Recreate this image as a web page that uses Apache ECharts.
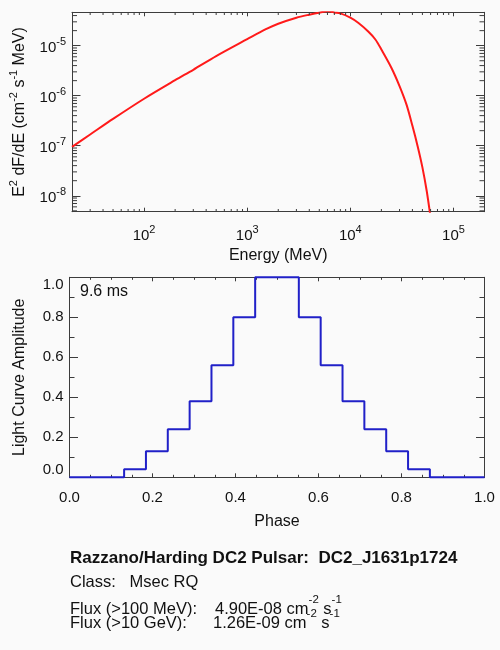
<!DOCTYPE html>
<html>
<head>
<meta charset="utf-8">
<title>DC2_J1631p1724</title>
<script src="https://cdn.jsdelivr.net/npm/echarts@6/dist/echarts.min.js"></script>
<style>
  html, body { margin: 0; padding: 0; background: #fafafa; }
  #main { width: 500px; height: 650px; }
</style>
</head>
<body>
<div id="main"></div>
<script>
// spectrum (top panel): energy in MeV, E^2 dF/dE in cm^-2 s^-1 MeV
const energy = [20, 30, 50, 100, 200, 300, 500, 1000, 1500, 2000, 3000, 4000, 5000, 5500, 6000,
  6500, 7000, 8000, 10000, 12000, 15000, 17500, 20000, 25000, 30000, 35000, 40000, 45000, 50000,
  55000, 60000];
const e2dnde = [9.5e-8, 1.68e-7, 3.44e-7, 8.7e-7, 2.04e-6, 3.3e-6, 6.2e-6, 1.35e-5, 2.11e-5, 2.75e-5,
  3.63e-5, 4.17e-5, 4.57e-5, 4.79e-5, 4.9e-5, 4.79e-5, 4.62e-5, 4.42e-5, 3.63e-5, 2.84e-5, 1.9e-5,
  1.33e-5, 8.4e-6, 3.63e-6, 1.56e-6, 6.7e-7, 2.5e-7, 9.7e-8, 3.7e-8, 1.26e-8, 3.7e-9];

// light curve (bottom panel)
const phase = [0.0000, 0.0526, 0.1053, 0.1579, 0.2105, 0.2632, 0.3158, 0.3684, 0.4211, 0.4737,
  0.5263, 0.5789, 0.6316, 0.6842, 0.7368, 0.7895, 0.8421, 0.8947, 0.9474, 1.0000];
const amplitude = [0, 0, 0, 0.04, 0.13, 0.24, 0.38, 0.56, 0.80, 1.0,
  1.0, 0.80, 0.56, 0.38, 0.24, 0.13, 0.04, 0, 0, 0];

// axis ranges and tick labels
const energyRange = [20, 2e5];
const fluxRange = [4.8e-9, 4.65e-5];
const phaseTicks = [0, 0.2, 0.4, 0.6, 0.8, 1.0];
const ampTicks = [0, 0.2, 0.4, 0.6, 0.8, 1.0];
const minorMantissa = [2, 3, 4, 5, 6, 7, 8, 9];

const FONT = "'Liberation Sans', Arial, Helvetica, sans-serif";
const axisColor = '#3c3c3c';
const textColor = '#111';

// minor ticks of the log axes: 2..9 x 10^n inside the range
function logMinor(range, d0, d1) {
  const out = [];
  for (let d = d0; d <= d1; d++) {
    minorMantissa.forEach(m => {
      const v = m * Math.pow(10, d);
      if (v > range[0] * 1.001 && v < range[1] * 0.999) out.push(v);
    });
  }
  return out;
}
const energyMinor = logMinor(energyRange, 1, 5);
const fluxMinor = logMinor(fluxRange, -9, -5);

const tickRich = {
  b: { fontFamily: FONT, fontSize: 15, color: textColor, lineHeight: 19, verticalAlign: 'bottom' },
  s: { fontFamily: FONT, fontSize: 11, color: textColor, lineHeight: 10, verticalAlign: 'top' }
};
const nameRich = {
  b: { fontFamily: FONT, fontSize: 16, color: textColor, lineHeight: 20, verticalAlign: 'bottom' },
  s: { fontFamily: FONT, fontSize: 11, color: textColor, lineHeight: 10, verticalAlign: 'top' }
};
function blockRich(labelWidth) {
  return {
    l: { fontFamily: FONT, fontSize: 16.5, fill: textColor, lineHeight: 24, verticalAlign: 'bottom',
      width: labelWidth },
    n: { fontFamily: FONT, fontSize: 16.5, fill: textColor, lineHeight: 24, verticalAlign: 'bottom' },
    s: { fontFamily: FONT, fontSize: 11.5, fill: textColor, lineHeight: 8, verticalAlign: 'top' }
  };
}

function powLabel(v) {
  const l = Math.log10(v);
  const e = Math.round(l);
  if (Math.abs(l - e) > 1e-6) return '';
  return '{b|10}{s|' + e + '}';
}

const chart = echarts.init(document.getElementById('main'));

const xTick = { show: true, inside: true, length: 4, lineStyle: { color: axisColor, width: 1 } };
const yTick = { show: true, inside: true, length: 8.5, lineStyle: { color: axisColor, width: 1 } };
const lineBox = { show: true, onZero: false, lineStyle: { color: axisColor, width: 1 } };
const noLabel = { show: false };
const xMinor = (n) => ({ show: true, splitNumber: n, length: 2.5, lineStyle: { color: axisColor } });
const yMinor = (n) => ({ show: true, splitNumber: n, length: 5, lineStyle: { color: axisColor } });

function minorTickSeries(horizontal) {
  return {
    type: 'custom',
    xAxisIndex: 0,
    yAxisIndex: 0,
    silent: true,
    clip: false,
    z: 5,
    data: horizontal ? energyMinor.map(v => [v, fluxRange[0]]) : fluxMinor.map(v => [energyRange[0], v]),
    renderItem(params, api) {
      const st = { stroke: axisColor, lineWidth: 1 };
      if (horizontal) {
        const b = api.coord([api.value(0), fluxRange[0]]);
        const t = api.coord([api.value(0), fluxRange[1]]);
        return { type: 'group', children: [
          { type: 'line', shape: { x1: b[0], y1: b[1], x2: b[0], y2: b[1] - 2.7 }, style: st },
          { type: 'line', shape: { x1: t[0], y1: t[1], x2: t[0], y2: t[1] + 2.7 }, style: st }
        ] };
      }
      const l = api.coord([energyRange[0], api.value(1)]);
      const r = api.coord([energyRange[1], api.value(1)]);
      return { type: 'group', children: [
        { type: 'line', shape: { x1: l[0], y1: l[1], x2: l[0] + 5, y2: l[1] }, style: st },
        { type: 'line', shape: { x1: r[0], y1: r[1], x2: r[0] - 5, y2: r[1] }, style: st }
      ] };
    }
  };
}

function plainText(x, y, text, font) {
  return { type: 'text', x: x, y: y,
    style: { text: text, font: font + ' ' + FONT, fill: textColor, verticalAlign: 'middle' } };
}
function fluxLine(y, label, labelWidth, value) {
  return { type: 'text', x: 70, y: y,
    style: { text: '{l|' + label + '}{n|' + value + ' cm}{s|-2}{n| s}{s|-1}', verticalAlign: 'middle',
      rich: blockRich(labelWidth) } };
}

const option = {
  backgroundColor: '#fafafa',
  animation: false,
  textStyle: { fontFamily: FONT },
  grid: [
    { left: 69.5, top: 12.3, width: 415, height: 199.4 },
    { left: 69.5, top: 277.3, width: 415, height: 200 }
  ],
  xAxis: [
    {
      type: 'log', gridIndex: 0, position: 'bottom',
      min: energyRange[0], max: energyRange[1],
      axisLine: lineBox, axisTick: xTick, splitLine: { show: false },
      axisLabel: { margin: 13, formatter: powLabel, rich: tickRich },
      name: 'Energy (MeV)', nameLocation: 'middle', nameGap: 36,
      nameTextStyle: { fontFamily: FONT, fontSize: 16, color: textColor }
    },
    {
      type: 'log', gridIndex: 0, position: 'top',
      min: energyRange[0], max: energyRange[1],
      axisLine: lineBox, axisTick: xTick, splitLine: { show: false }, axisLabel: noLabel
    },
    {
      type: 'value', gridIndex: 1, position: 'bottom',
      min: phaseTicks[0], max: phaseTicks[phaseTicks.length - 1], interval: 0.2,
      axisLine: lineBox, axisTick: xTick, splitLine: { show: false }, minorTick: xMinor(4),
      axisLabel: { margin: 13, fontSize: 15, color: textColor, fontFamily: FONT,
        formatter: v => v.toFixed(1) },
      name: 'Phase', nameLocation: 'middle', nameGap: 36,
      nameTextStyle: { fontFamily: FONT, fontSize: 16, color: textColor }
    },
    {
      type: 'value', gridIndex: 1, position: 'top',
      min: 0, max: 1, interval: 0.2,
      axisLine: lineBox, axisTick: xTick, splitLine: { show: false }, minorTick: xMinor(4),
      axisLabel: noLabel
    }
  ],
  yAxis: [
    {
      type: 'log', gridIndex: 0, position: 'left',
      min: fluxRange[0], max: fluxRange[1],
      axisLine: lineBox, axisTick: yTick, splitLine: { show: false },
      axisLabel: { margin: 6, formatter: powLabel, rich: tickRich },
      name: '{b|E}{s|2}{b| dF/dE (cm}{s|-2}{b| s}{s|-1}{b| MeV)}',
      nameLocation: 'middle', nameGap: 44, nameRotate: 90,
      nameTextStyle: { rich: nameRich }
    },
    {
      type: 'log', gridIndex: 0, position: 'right',
      min: fluxRange[0], max: fluxRange[1],
      axisLine: lineBox, axisTick: yTick, splitLine: { show: false }, axisLabel: noLabel
    },
    {
      type: 'value', gridIndex: 1, position: 'left',
      min: ampTicks[0], max: ampTicks[ampTicks.length - 1], interval: 0.2,
      axisLine: lineBox, axisTick: yTick, splitLine: { show: false }, minorTick: yMinor(2),
      axisLabel: { margin: 6, fontSize: 15, color: textColor, fontFamily: FONT,
        formatter: v => v.toFixed(1),
        verticalAlignMinLabel: 'bottom', verticalAlignMaxLabel: 'top' },
      name: 'Light Curve Amplitude', nameLocation: 'middle', nameGap: 42, nameRotate: 90,
      nameTextStyle: { fontFamily: FONT, fontSize: 16, color: textColor }
    },
    {
      type: 'value', gridIndex: 1, position: 'right',
      min: 0, max: 1, interval: 0.2,
      axisLine: lineBox, axisTick: yTick, splitLine: { show: false }, minorTick: yMinor(2),
      axisLabel: noLabel
    }
  ],
  series: [
    {
      type: 'line', xAxisIndex: 0, yAxisIndex: 0,
      data: energy.map((e, i) => [e, e2dnde[i]]),
      showSymbol: false, smooth: 0.3, clip: true,
      lineStyle: { color: '#ff1a1a', width: 2 }
    },
    minorTickSeries(true),
    minorTickSeries(false),
    {
      type: 'line', xAxisIndex: 2, yAxisIndex: 2,
      data: phase.map((p, i) => [p, amplitude[i]]),
      step: 'middle', showSymbol: false, clip: false,
      lineStyle: { color: '#2020c8', width: 2 }
    }
  ],
  graphic: [
    { type: 'text', left: 80, top: 283.5,
      style: { text: '9.6 ms', font: '16px ' + FONT, fill: textColor } },
    plainText(70, 558, 'Razzano/Harding DC2 Pulsar:  DC2_J1631p1724', 'bold 17px'),
    plainText(70, 582, 'Class:   Msec RQ', '16.5px'),
    fluxLine(605.5, 'Flux (>100 MeV):', 145, '4.90E-08'),
    fluxLine(619.5, 'Flux (>10 GeV):', 143, '1.26E-09')
  ]
};

chart.setOption(option);

window.addEventListener('resize', () => {
  chart.resize();
});
</script>
</body>
</html>
